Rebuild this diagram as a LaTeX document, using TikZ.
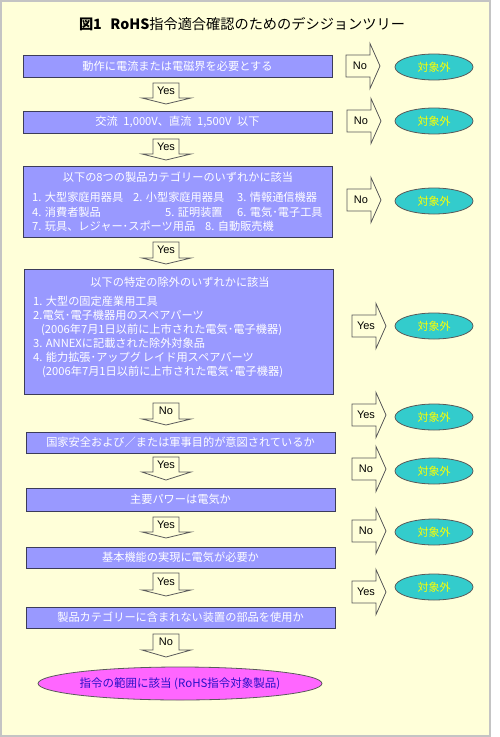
\documentclass[tikz,border=0pt]{standalone}
\usepackage{fontspec}
\setmainfont{Noto Sans CJK JP}
\newfontfamily\latinf{Liberation Sans}
\usetikzlibrary{shapes.geometric}
\definecolor{bgy}{HTML}{FFFFD9}
\definecolor{frameg}{HTML}{C4C4C4}
\definecolor{boxfill}{HTML}{9999FF}
\definecolor{boxline}{HTML}{3C3C5A}
\definecolor{teal}{HTML}{33CCCC}
\definecolor{yel}{HTML}{FFFF00}
\definecolor{mag}{HTML}{FF66FF}
\definecolor{blu}{HTML}{2A10C8}
\definecolor{arrline}{HTML}{5A5A5A}
\tikzset{
  boxs/.style={draw=boxline, line width=0.9pt, fill=boxfill, inner sep=0pt, text=white,
    font=\fontsize{11.2}{13}\selectfont},
  boxtxt/.style={inner sep=0pt, text=white, font=\fontsize{11.2}{13}\selectfont},
  outs/.style={ellipse, draw=arrline, line width=0.8pt, fill=teal, text=yel, inner sep=0pt,
    minimum width=78pt, minimum height=26pt, font=\fontsize{11}{13}\selectfont},
  finals/.style={ellipse, draw=arrline, line width=0.8pt, fill=mag, text=blu, inner sep=0pt,
    minimum width=266pt, minimum height=33pt, font=\fontsize{11.5}{13}\selectfont},
  arrowline/.style={draw=arrline, line width=0.8pt, fill=bgy, line join=miter},
  arrowlbl/.style={inner sep=0pt, text=black, font=\latinf\fontsize{11}{13}\selectfont},
}
\newcommand\RArr[4]{%
  \draw[arrowline] (#2,#3-11) -- ++(24,0) -- ++(0,-11.5) -- (#2+34,#3) -- (#2+24,#3+22.5) -- ++(0,-11.5) -- (#2,#3+11) -- cycle;
  \node[arrowlbl] (#1) at (#2+14,#3) {#4};}
\newcommand\DArr[5]{%
  \draw[arrowline] (153,#2) -- (179,#2) -- (179,#3) -- (191,#3) -- (166,#4) -- (142,#3) -- (153,#3) -- cycle;
  \node[arrowlbl] (#1) at (166,#2/2+#3/2) {#5};}
\begin{document}
\begin{tikzpicture}[x={(1pt,0)}, y={(0,-1pt)}]
\fill[white] (0,0) rectangle (500,737);
\useasboundingbox (0,0) rectangle (500,737);
\draw[frameg, line width=2pt, fill=bgy] (1,1) rectangle (490,736);

\node[inner sep=0pt, font=\fontsize{14.2}{16}\selectfont] (title) at (242,24)
  {\textbf{図1\hspace{0.6em}RoHS}指令適合確認のためのデシジョンツリー};

% boxes
\node[boxs, minimum width=309pt, minimum height=22pt] (b1) at (177.5,66) {動作に電流または電磁界を必要とする};
\node[boxs, minimum width=309pt, minimum height=22pt] (b2) at (177.5,122) {交流\hspace{0.5em}1,000V、直流\hspace{0.5em}1,500V\hspace{0.5em}以下};
\node[boxs, minimum width=309pt, minimum height=71pt] (b3) at (177.5,201.5) {};
\node[boxtxt] (b3t) at (178,177) {以下の8つの製品カテゴリーのいずれかに該当};
\node[boxtxt, anchor=west] (c1) at (32,197) {1. 大型家庭用器具};
\node[boxtxt, anchor=west] (c2) at (133,197) {2. 小型家庭用器具};
\node[boxtxt, anchor=west] (c3) at (237,197) {3. 情報通信機器};
\node[boxtxt, anchor=west] (c4) at (32,212) {4. 消費者製品};
\node[boxtxt, anchor=west] (c5) at (165,212) {5. 証明装置};
\node[boxtxt, anchor=west] (c6) at (237,212) {6. 電気･電子工具};
\node[boxtxt, anchor=west] (c7) at (32,226) {7. 玩具、レジャー･スポーツ用品};
\node[boxtxt, anchor=west] (c8) at (205,226) {8. 自動販売機};

\node[boxs, minimum width=309pt, minimum height=125pt] (b4) at (178.5,331.5) {};
\node[boxtxt] (b4t) at (180,282) {以下の特定の除外のいずれかに該当};
\node[boxtxt, anchor=west] (e1) at (33,301) {1. 大型の固定産業用工具};
\node[boxtxt, anchor=west] (e2) at (33,315) {2.電気･電子機器用のスペアパーツ};
\node[boxtxt, anchor=west] (e2b) at (41,329.5) {(2006年7月1日以前に上市された電気･電子機器)};
\node[boxtxt, anchor=west] (e3) at (33,343.5) {3. ANNEXに記載された除外対象品};
\node[boxtxt, anchor=west] (e4) at (33,357.5) {4. 能力拡張･アップグ\,レイド用スペアパーツ};
\node[boxtxt, anchor=west] (e4b) at (42,371.5) {(2006年7月1日以前に上市された電気･電子機器)};

\node[boxs, minimum width=309pt, minimum height=21pt] (b5) at (180.5,442.5) {国家安全および／または軍事目的が意図されているか};
\node[boxs, minimum width=309pt, minimum height=23pt] (b6) at (180.5,499.5) {主要パワーは電気か};
\node[boxs, minimum width=309pt, minimum height=21pt] (b7) at (180.5,557.5) {基本機能の実現に電気が必要か};
\node[boxs, minimum width=309pt, minimum height=21pt] (b8) at (180.5,617.5) {製品カテゴリーに含まれない装置の部品を使用か};

\node[finals] (fin) at (180,683.5) {指令の範囲に該当 (RoHS指令対象製品)};

% down arrows
\DArr{d1}{83}{98}{104}{Yes}
\DArr{d2}{139}{154}{160}{Yes}
\DArr{d3}{242}{258}{264}{Yes}
\DArr{d4}{403}{419}{425}{No}
\DArr{d5}{457}{472}{480}{Yes}
\DArr{d6}{517}{532}{538}{Yes}
\DArr{d7}{573}{590}{596}{Yes}
\DArr{d8}{634}{650}{657}{No}

% right arrows
\RArr{r1}{346}{66}{No}
\RArr{r2}{347}{121}{No}
\RArr{r3}{347}{200}{No}
\RArr{r4}{352}{326}{Yes}
\RArr{r5}{352}{415}{Yes}
\RArr{r6}{352}{469}{No}
\RArr{r7}{352}{531}{No}
\RArr{r8}{352}{592}{Yes}

% out-of-scope ellipses
\node[outs] (o1) at (434,67) {対象外};
\node[outs] (o2) at (434,121) {対象外};
\node[outs] (o3) at (434,201) {対象外};
\node[outs] (o4) at (434,326) {対象外};
\node[outs] (o5) at (434,417) {対象外};
\node[outs] (o6) at (434,471) {対象外};
\node[outs] (o7) at (434,532) {対象外};
\node[outs] (o8) at (434,587) {対象外};
\end{tikzpicture}
\end{document}
